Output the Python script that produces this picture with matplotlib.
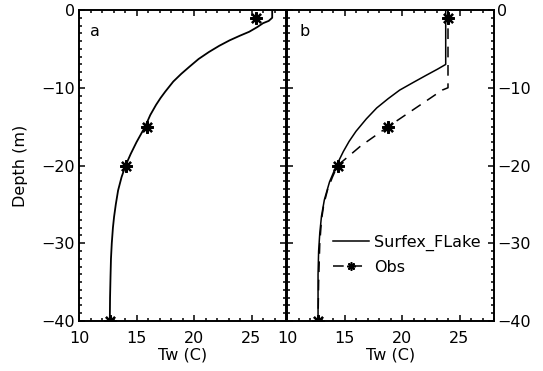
import matplotlib
matplotlib.use("Agg")
import matplotlib.pyplot as plt
from matplotlib.ticker import MultipleLocator

plt.rcParams['font.family'] = ['DejaVu Sans']
plt.rcParams['font.size'] = 11.5

# panel a: model profile and observations
model_a_depth = [0, -1, -1.4, -1.7, -2.2, -2.8, -3.3, -3.9, -4.6, -5.4, -6.3, -7.3, -8.2, -9.2,
                 -10.5, -11.3, -12.2, -13.5, -15, -17, -18.5, -20, -21.5, -23.2, -25, -26.6,
                 -28, -30, -32, -34.3, -37, -40]
model_a_temp = [26.8, 26.8, 26.5, 26.0, 25.5, 24.8, 24.0, 23.1, 22.2, 21.3, 20.4, 19.6, 18.9, 18.2,
                17.5, 17.1, 16.7, 16.2, 15.75, 15.0, 14.5, 14.05, 13.7, 13.4, 13.2, 13.05,
                12.95, 12.85, 12.78, 12.74, 12.7, 12.68]
obs_a_depth = [-1, -15, -20, -40]
obs_a_temp = [25.4, 15.9, 14.1, 12.7]

# panel b
model_b_depth = [0, -7, -7.6, -8.4, -9.3, -10.3, -11.4, -12.6, -14, -15.6, -16.9, -18.2, -20,
                 -22.1, -24.4, -26.5, -28.7, -31, -34, -40]
model_b_temp = [23.8, 23.8, 23.1, 22.1, 21.0, 19.8, 18.8, 17.8, 16.9, 16.0, 15.4, 14.9, 14.3,
                13.7, 13.25, 13.0, 12.85, 12.75, 12.7, 12.7]
obs_b_line_depth = [0, -10, -10.3, -15, -17.5, -20, -21.5, -23, -25, -27, -30, -35, -40]
obs_b_line_temp = [24.0, 24.0, 23.5, 18.8, 16.4, 14.4, 13.95, 13.55, 13.2, 13.0, 12.85, 12.75, 12.7]
obs_b_depth = [-1, -15, -20, -40]
obs_b_temp = [24.0, 18.8, 14.4, 12.7]

star = (8, 2, 0)
dash = (0, (7, 5))

fig = plt.figure(figsize=(5.43, 3.71), dpi=100)
ax1 = fig.add_axes([79/543, 50/371, 207/543, 311/371])
ax2 = fig.add_axes([287/543, 50/371, 207/543, 311/371])

ax1.plot(model_a_temp, model_a_depth, color='black', lw=1.3)
ax1.plot(obs_a_temp, obs_a_depth, ls='none', marker=star, ms=9, mew=1.6, color='black')

ax2.plot(model_b_temp, model_b_depth, color='black', lw=1.1, label='Surfex_FLake')
ax2.plot(obs_b_line_temp, obs_b_line_depth, color='black', lw=1.1, ls=dash)
ax2.plot(obs_b_temp, obs_b_depth, ls='none', marker=star, ms=9, mew=1.6, color='black')
ax2.plot([], [], color='black', lw=1.1, ls=dash, marker=star, ms=6, mew=1.2, label='Obs')
ax2.legend(loc='lower left', bbox_to_anchor=(0.19, 0.128), frameon=False, handlelength=2.3,
           handletextpad=0.3, labelspacing=0.55, fontsize=11.5, borderaxespad=0)

for ax in (ax1, ax2):
    ax.set_xlim(10, 28)
    ax.set_ylim(-40, 0)
    ax.xaxis.set_minor_locator(MultipleLocator(1))
    ax.yaxis.set_minor_locator(MultipleLocator(1))
    ax.set_xticks([10, 15, 20, 25])
    ax.tick_params(which='both', direction='in', top=True, right=True, left=True, width=1.1)
    ax.tick_params(which='major', length=4)
    ax.tick_params(which='minor', length=2)
    ax.tick_params(axis='x', pad=7.5)
    for s in ax.spines.values():
        s.set_linewidth(1.4)
    ax.set_xlabel('Tw (C)')
    ax.xaxis.set_label_coords(0.5, -0.085)
    ax.set_yticks([0, -10, -20, -30, -40])
    ax.set_yticklabels(['0', '\u221210', '\u221220', '\u221230', '\u221240'])

ax1.tick_params(axis='y', pad=3)
ax1.set_ylabel('Depth (m)')
ax1.yaxis.set_label_coords(-0.246, 0.5)
ax2.yaxis.tick_right()
ax2.tick_params(which='both', left=True, right=True)
ax2.tick_params(axis='y', pad=2)

ax1.text(0.055, 0.93, 'a', transform=ax1.transAxes, va='center')
ax2.text(0.06, 0.93, 'b', transform=ax2.transAxes, va='center')

fig.savefig('out.png', dpi=100)
